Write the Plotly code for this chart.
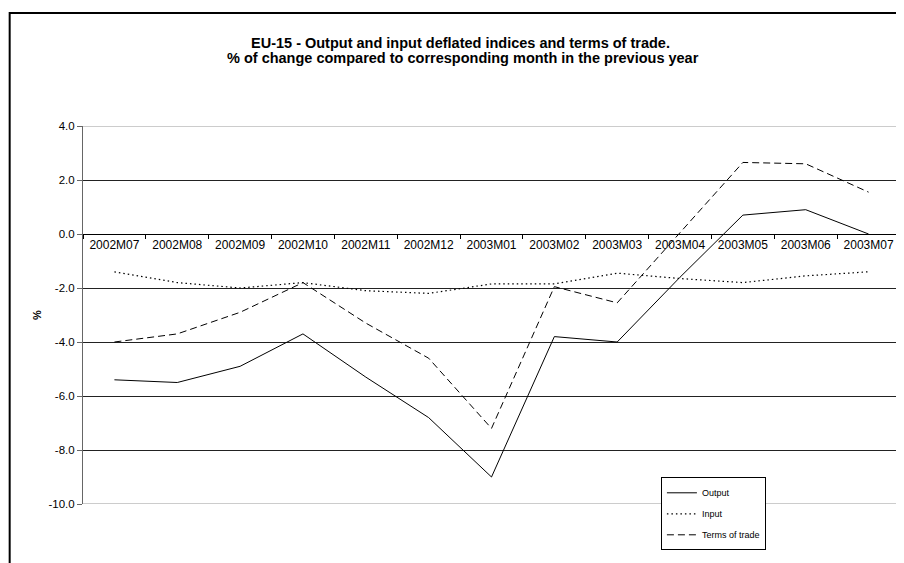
import plotly.graph_objects as go

months = ["2002M07", "2002M08", "2002M09", "2002M10", "2002M11", "2002M12",
          "2003M01", "2003M02", "2003M03", "2003M04", "2003M05", "2003M06", "2003M07"]
output_vals = [-5.4, -5.5, -4.9, -3.7, -5.3, -6.8, -9.0, -3.8, -4.0, -1.6, 0.7, 0.9, 0.0]
input_vals = [-1.4, -1.8, -2.0, -1.8, -2.1, -2.2, -1.85, -1.85, -1.45, -1.65, -1.8, -1.55, -1.4]
terms_vals = [-4.0, -3.7, -2.9, -1.8, -3.3, -4.6, -7.2, -1.95, -2.55, 0.05, 2.65, 2.6, 1.55]
y_ticks = [4, 2, 0, -2, -4, -6, -8, -10]

FONT = "Arial, Liberation Sans, sans-serif"

fig = go.Figure()
fig.add_trace(go.Scatter(x=months, y=output_vals, name="Output", mode="lines",
                         line=dict(color="black", width=1), legendgroup="a"))
fig.add_trace(go.Scatter(x=months, y=input_vals, name="Input", mode="lines",
                         line=dict(color="black", width=1.2, dash="1.5px,3px"), legendgroup="b"))
fig.add_trace(go.Scatter(x=months, y=terms_vals, name="Terms of trade", mode="lines",
                         line=dict(color="black", width=1, dash="7px,4px"), legendgroup="c"))

# page has an 8px body margin: figure is placed at (8, 8) inside the 904x563 window
OFF = 8
FW, FH = 904 - OFF, 563 - OFF
# plot area in window pixels
PL, PR, PT, PB = 83.3, 900, 125.7, 503.7
L, R, T, B = PL - OFF, FW - (PR - OFF), PT - OFF, FH - (PB - OFF)
H = PB - PT
W = PR - PL

def py(pix):  # window pixel y -> paper
    return (PB - pix) / H

def px(pix):  # window pixel x -> paper
    return (pix - PL) / W

edge_lines = [
    dict(type="line", xref="paper", yref="y", x0=0, x1=1, y0=v, y1=v,
         line=dict(color="#bbbbbb", width=1.5), layer="below")
    for v in (max(y_ticks), min(y_ticks))
]

fig.update_layout(
    width=FW, height=FH,
    margin=dict(l=L, r=R, t=T, b=B, pad=0),
    paper_bgcolor="white", plot_bgcolor="white",
    font=dict(family=FONT, color="black"),
    showlegend=True,
    legend=dict(x=px(661), y=py(477), xanchor="left", yanchor="top",
                bordercolor="black", borderwidth=1, bgcolor="white",
                font=dict(size=9, family=FONT), tracegroupgap=2,
                itemwidth=30),
    xaxis=dict(type="category", range=[-0.5, 12.5], anchor="free",
               position=10 / 14, showline=True, linecolor="black", linewidth=1,
               ticks="outside", ticklen=4, tickcolor="black", tickson="boundaries",
               showgrid=False, tickfont=dict(size=12, family=FONT), zeroline=False),
    yaxis=dict(range=[-10, 4], tickmode="array", tickvals=y_ticks,
               ticktext=[f"{v:.1f}" for v in y_ticks], showgrid=True,
               gridcolor="#222", gridwidth=1, zeroline=False,
               showline=True, linecolor="#666", linewidth=1,
               ticks="outside", ticklen=5, tickcolor="#666",
               tickfont=dict(size=11.5, family=FONT),
               title=dict(text="<b>%</b>", font=dict(size=11, family=FONT), standoff=4)),
    annotations=[
        dict(text="<b>EU-15 - Output and input deflated indices and terms of trade.</b>",
             xref="paper", yref="paper", x=px(461), y=py(42.3), showarrow=False,
             xanchor="center", yanchor="middle",
             font=dict(size=14.5, family=FONT)),
        dict(text="<b>% of change compared to corresponding month in the previous year</b>",
             xref="paper", yref="paper", x=px(463), y=py(57.8), showarrow=False,
             xanchor="center", yanchor="middle",
             font=dict(size=14.5, family=FONT)),
    ],
    shapes=[
        dict(type="rect", xref="paper", yref="paper", x0=px(10), x1=px(960),
             y0=py(620), y1=py(12.7), line=dict(color="black", width=2),
             fillcolor="rgba(0,0,0,0)", layer="below"),
    ] + edge_lines,
)

fig.write_html("out.html")
